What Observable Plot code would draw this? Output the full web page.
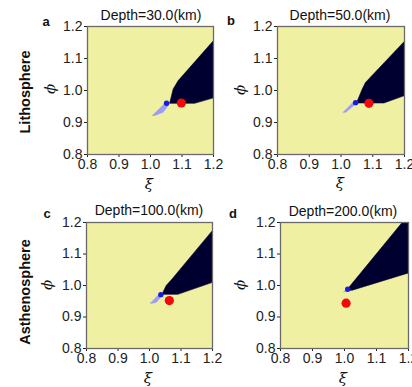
<!DOCTYPE html>
<html><head><meta charset="utf-8">
<script src="https://cdn.jsdelivr.net/npm/d3@7"></script>
<script src="https://cdn.jsdelivr.net/npm/@observablehq/plot@0.6"></script>
<style>
body{margin:0;background:#fff;}
#wrap{position:relative;width:412px;height:387px;overflow:hidden;font-family:"Liberation Sans",Arial,sans-serif;color:#111;}
#wrap svg.pl{position:absolute;}
#wrap svg.pl text, #wrap svg.pl g{font-size:14px !important;font-family:"Liberation Sans",Arial,sans-serif !important;}
.t{position:absolute;transform:translate(-50%,-50%);white-space:nowrap;}
</style></head>
<body><div id="wrap"></div>
<script>
// ---- data ----
const panelLetters = ["a", "b", "c", "d"];
const depthsKm = [30.0, 50.0, 100.0, 200.0];
const rowLabels = ["Lithosphere", "Asthenosphere"];
const tickValues = [0.8, 0.9, 1.0, 1.1, 1.2];

// dark region (xi, phi) polygons
const darkA = [[1.061,0.961],[1.072,1.005],[1.088,1.031],[1.2,1.156],[1.2,0.977],[1.14,0.960],[1.061,0.960]];
const darkB = [[1.049,0.962],[1.067,1.005],[1.077,1.025],[1.2,1.154],[1.2,0.984],[1.135,0.961],[1.049,0.961]];
const darkC = [[1.040,0.973],[1.053,1.000],[1.071,1.020],[1.2,1.175],[1.2,1.010],[1.09,0.972],[1.040,0.972]];
const darkD = [[1.008,0.987],[1.18,1.2],[1.2,1.2],[1.2,1.040],[1.024,0.985],[1.008,0.985]];
// light-blue region polygons
const lightA = [[1.006,0.922],[1.046,0.960],[1.058,0.955],[1.040,0.932],[1.014,0.922]];
const lightB = [[1.007,0.932],[1.038,0.963],[1.046,0.958],[1.032,0.946],[1.015,0.932]];
const lightC = [[1.003,0.944],[1.032,0.974],[1.040,0.968],[1.022,0.947],[1.010,0.944]];
const lightD = [[0.998,0.980],[1.008,0.989],[1.010,0.985],[1.002,0.980]];
// points
const blueDots = [[1.051,0.960],[1.046,0.962],[1.036,0.971],[1.010,0.988]];
const redDots = [[1.098,0.961],[1.088,0.960],[1.063,0.952],[1.005,0.944]];

const darkRegions = [darkA, darkB, darkC, darkD];
const lightRegions = [lightA, lightB, lightC, lightD];

// ---- layout ----
const layout = [
  {left:0,   top:0,   mr:3, mb:21, title:[151,15], letter:[46,21], xl:[149,184], yl:[50,89]},
  {left:190, top:0,   mr:2, mb:21, title:[340,15], letter:[231,20], xl:[340,183], yl:[240,90]},
  {left:-1,  top:196, mr:3, mb:23, title:[149,210], letter:[47,213], xl:[148,378], yl:[47,285]},
  {left:193, top:196, mr:1, mb:23, title:[343,211], letter:[233,213], xl:[343,378], yl:[240,285]}
];

const YELLOW = "#f0f0a2", DARK = "#000030", LIGHT = "#9a9cf6", BLUE = "#1a1ae6", RED = "#f20a0a";
const wrap = document.getElementById("wrap");

function addText(txt, x, y, style, rot) {
  const d = document.createElement("div");
  d.className = "t";
  d.textContent = txt;
  d.style.left = x + "px"; d.style.top = y + "px";
  Object.assign(d.style, style || {});
  if (rot) d.style.transform = "translate(-50%,-50%) rotate(-90deg)";
  wrap.appendChild(d);
}

for (let i = 0; i < 4; i++) {
  const L = layout[i];
  const close = a => a.concat([a[0]]);
  const svg = Plot.plot({
    width: 216, height: 175,
    marginLeft: 87, marginRight: L.mr, marginTop: 26, marginBottom: L.mb,
    style: {fontSize: "14px", fontFamily: "Liberation Sans, Arial, sans-serif", color: "#222", background: "transparent", overflow: "visible"},
    x: {domain: [0.8, 1.2], ticks: tickValues, tickFormat: d3.format(".1f"), tickSize: 3, tickPadding: 2, label: null},
    y: {domain: [0.8, 1.2], ticks: tickValues, tickFormat: d3.format(".1f"), tickSize: 3, tickPadding: 2, label: null},
    marks: [
      Plot.frame({fill: YELLOW, stroke: null}),
      Plot.line(close(darkRegions[i]), {x: d => d[0], y: d => d[1], fill: DARK, stroke: DARK, strokeWidth: 0.6}),
      Plot.line(close(lightRegions[i]), {x: d => d[0], y: d => d[1], fill: LIGHT, stroke: LIGHT, strokeWidth: 0.6}),
      Plot.dot([blueDots[i]], {x: d => d[0], y: d => d[1], r: 2.7, fill: BLUE, stroke: null}),
      Plot.dot([redDots[i]], {x: d => d[0], y: d => d[1], r: 4.6, fill: RED, stroke: null}),
      Plot.frame({stroke: "#6a6a6a", strokeWidth: 1.3})
    ]
  });
  svg.classList.add("pl");
  svg.style.left = L.left + "px";
  svg.style.top = L.top + "px";
  wrap.appendChild(svg);

  addText("Depth=" + depthsKm[i].toFixed(1) + "(km)", L.title[0], L.title[1], {fontSize: "14px"});
  addText(panelLetters[i], L.letter[0], L.letter[1], {fontSize: "13px", fontWeight: "bold"});
  addText("ξ", L.xl[0], L.xl[1], {fontSize: "15px", fontFamily: "DejaVu Serif, serif", fontStyle: "italic"});
  addText("ϕ", L.yl[0], L.yl[1], {fontSize: "15px", fontFamily: "DejaVu Serif, serif", fontStyle: "italic"}, true);
}
addText(rowLabels[0], 25, 92, {fontSize: "14.5px", fontWeight: "bold"}, true);
addText(rowLabels[1], 25, 292, {fontSize: "14.5px", fontWeight: "bold"}, true);
</script>
</body></html>
